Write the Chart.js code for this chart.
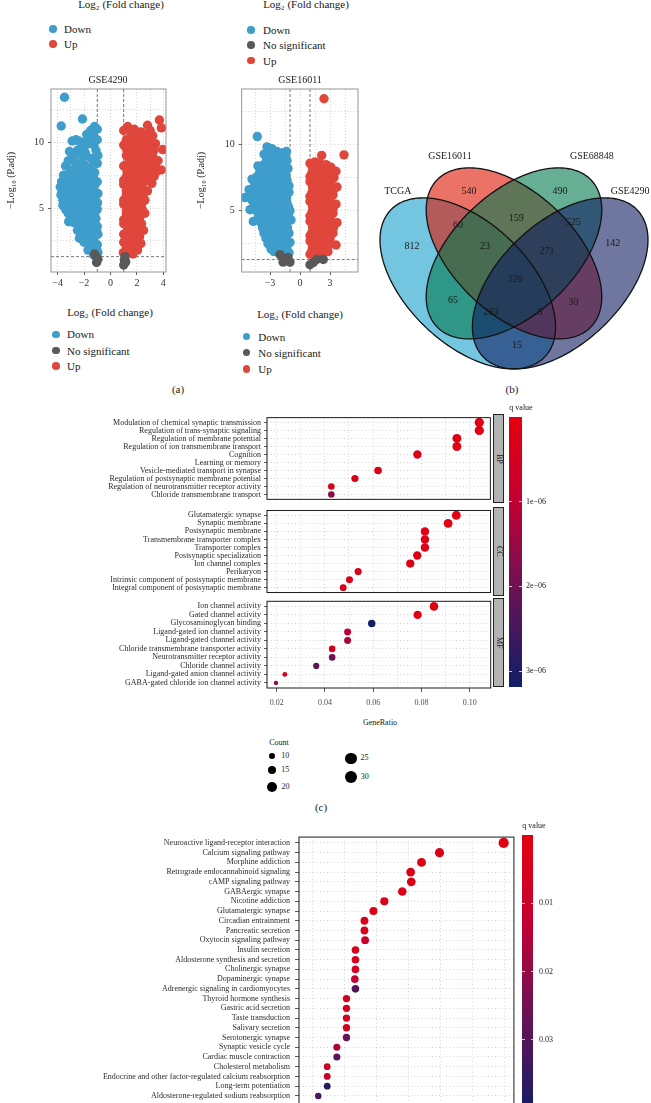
<!DOCTYPE html>
<html><head><meta charset="utf-8">
<script src="https://cdn.jsdelivr.net/npm/chart.js@4.4.1/dist/chart.umd.min.js"></script>
<style>
html,body{margin:0;padding:0;width:651px;height:1103px;overflow:hidden;background:#fff;font-family:'Liberation Serif',serif;color:#1a1a1a}
canvas{position:absolute}
.t{position:absolute;white-space:nowrap;line-height:1}
.dot{position:absolute;border-radius:50%}
.strip{position:absolute;background:#b3b3b3;border:1px solid #222;box-sizing:border-box;display:flex;align-items:center;justify-content:center}
.strip span{writing-mode:vertical-rl;font-size:8px;color:#1a1a1a;line-height:1}
.cbar{position:absolute}
.ctk{position:absolute;height:1px;background:rgba(255,255,255,0.75)}
</style></head><body>
<script>
// ================= DATA =================
// --- Volcano plots: [log2FC, -log10(P.adj)] ---
const gse4290Down = [[-3.48,13.43],[-3.73,11.24],[-2.12,11.78],[-3.16,3.96],
 [-1.2,11.2],[-1.0,11.0],[-1.5,10.9],[-1.8,10.6],[-1.3,10.5],[-2.6,10.2],[-2.9,10.1],[-2.2,10.0],[-1.0,10.2],[-1.6,9.9],[-3.1,9.3],[-2.5,9.4],[-1.9,9.2],[-1.1,9.4],
 [-3.4,8.2],[-2.8,8.6],[-2.2,8.5],[-1.5,8.8],[-1.0,8.4],[-3.0,7.9],[-2.4,7.8],[-1.8,8.0],[-1.2,7.7],
 [-3.7,7.0],[-3.8,6.6],[-3.3,7.2],[-2.8,7.0],[-2.2,7.2],[-1.6,7.1],[-1.0,7.0],[-3.5,6.2],[-3.0,6.3],[-2.5,6.5],[-2.0,6.4],[-1.4,6.3],[-0.95,6.1],
 [-3.6,5.6],[-3.2,5.5],[-2.7,5.7],[-2.2,5.4],[-1.7,5.6],[-1.2,5.3],[-3.4,4.9],[-2.9,4.8],[-2.4,5.0],[-1.9,4.9],[-1.4,4.7],[-1.0,4.9],
 [-3.0,4.3],[-2.6,4.2],[-2.1,4.1],[-1.6,4.0],[-1.1,4.2],[-2.4,3.6],[-1.9,3.5],[-1.4,3.4],[-1.0,3.6],
 [-2.2,3.0],[-1.7,2.9],[-1.2,2.8],[-0.95,3.0],[-2.0,2.4],[-1.5,2.3],[-1.0,2.2],
 [-1.7,1.8],[-1.2,1.7],[-0.95,1.6],[-1.3,1.45],
 [-1.35,11.0],[-1.75,10.3],[-2.4,10.1],[-1.25,9.8],[-2.0,9.6],[-2.75,9.0],[-2.1,8.9],[-1.3,8.6],[-0.95,9.0],
 [-3.2,8.6],[-2.6,8.1],[-2.0,8.3],[-1.4,8.2],[-3.55,7.5],[-3.05,7.6],[-2.5,7.4],[-1.9,7.6],[-1.3,7.4],
 [-3.3,6.7],[-2.75,6.6],[-2.2,6.8],[-1.7,6.7],[-1.2,6.7],[-3.75,6.0],[-3.25,5.9],[-2.75,6.1],[-2.25,6.0],[-1.7,6.0],[-1.15,5.8],
 [-3.6,5.2],[-3.0,5.2],[-2.5,5.3],[-1.95,5.3],[-1.45,5.1],[-0.98,5.4],
 [-3.2,4.6],[-2.7,4.5],[-2.2,4.6],[-1.7,4.5],[-1.2,4.6],[-2.8,3.9],[-2.3,3.9],[-1.75,3.8],[-1.2,3.9],
 [-2.5,3.3],[-2.0,3.2],[-1.5,3.1],[-1.05,3.3],[-2.35,2.7],[-1.8,2.6],[-1.3,2.5],[-1.45,2.0],[-1.05,1.9]];
const gse4290Up = [[1.3,11.2],[1.8,11.0],[2.8,11.3],[3.7,11.7],[3.85,11.1],[2.3,10.8],[1.0,10.9],[3.2,10.5],[1.5,10.4],[2.0,10.3],[2.6,10.2],[3.4,9.9],[3.95,9.45],
 [1.0,9.8],[1.4,9.6],[1.9,9.7],[2.4,9.5],[2.9,9.6],[1.2,9.0],[1.7,8.9],[2.2,8.8],[2.7,8.7],[3.2,8.9],[3.6,8.6],
 [1.0,8.2],[1.5,8.1],[2.0,8.0],[2.5,7.9],[3.0,8.0],[3.83,7.9],[1.2,7.4],[1.7,7.3],[2.2,7.2],[2.8,7.3],[3.3,7.4],
 [1.0,6.8],[1.4,6.6],[1.9,6.5],[2.4,6.7],[3.13,6.88],[2.8,6.3],[1.2,6.0],[1.7,5.9],[2.2,5.8],[2.6,5.6],
 [1.0,5.3],[1.4,5.1],[1.9,5.0],[2.4,4.9],[1.2,4.5],[1.7,4.4],[2.2,4.2],[2.6,4.6],
 [1.0,3.8],[1.5,3.7],[2.0,3.5],[2.5,3.3],[1.2,3.1],[1.7,3.0],[2.2,2.8],
 [1.0,2.4],[1.5,2.3],[2.3,2.3],[1.9,2.1],[0.97,1.6],[1.3,1.7],[1.7,1.5],
 [1.55,10.9],[2.05,10.7],[2.55,10.6],[3.0,10.9],[1.2,10.2],[1.75,10.1],[2.3,9.9],[2.8,10.0],[3.3,9.4],
 [1.2,9.5],[1.6,9.3],[2.1,9.2],[2.6,9.1],[3.0,9.1],[1.4,8.5],[1.9,8.4],[2.45,8.4],[2.9,8.4],[3.4,8.2],
 [1.25,7.8],[1.75,7.7],[2.25,7.6],[2.75,7.6],[3.5,7.8],[1.0,7.1],[1.5,7.0],[2.0,6.9],[2.55,7.0],[3.05,7.1],
 [1.2,6.3],[1.65,6.2],[2.15,6.2],[2.5,6.1],[1.0,5.6],[1.45,5.5],[1.95,5.4],[2.35,5.3],
 [1.2,4.8],[1.65,4.7],[2.1,4.6],[1.0,4.1],[1.45,4.0],[1.9,3.9],[2.35,3.8],[1.3,3.4],[1.75,3.3],[2.2,3.2],
 [1.0,3.0],[1.45,2.7],[1.95,2.6],[1.2,2.0],[1.65,1.9],[2.05,1.8]];
const gse4290NS = [[-1.2,1.5],[-1.1,1.3],[-1.05,0.85],[-0.95,1.1],[1.05,1.05],[1.0,0.66],[1.1,1.3],[1.15,0.9]];

const gse16011Down = [[-4.27,10.63],[-5.5,6.0],[-5.0,5.08],[-4.67,4.19],
 [-3.3,9.85],[-2.8,9.7],[-2.3,9.5],[-1.7,9.4],[-1.35,9.5],[-3.6,9.3],[-3.0,9.0],[-2.5,8.9],[-2.0,8.8],[-1.5,8.7],
 [-4.2,8.4],[-3.6,8.5],[-3.1,8.3],[-2.6,8.2],[-2.1,8.1],[-1.6,8.0],[-1.2,8.2],
 [-4.8,7.4],[-4.3,7.6],[-3.8,7.5],[-3.3,7.4],[-2.8,7.3],[-2.3,7.4],[-1.8,7.2],[-1.3,7.3],
 [-5.1,6.6],[-4.6,6.7],[-4.1,6.8],[-3.6,6.6],[-3.1,6.5],[-2.6,6.6],[-2.1,6.4],[-1.6,6.5],[-1.1,6.4],
 [-4.8,5.8],[-4.3,5.9],[-3.8,5.7],[-3.3,5.8],[-2.8,5.6],[-2.3,5.7],[-1.8,5.5],[-1.3,5.6],
 [-4.4,5.0],[-3.9,4.9],[-3.4,5.0],[-2.9,4.8],[-2.4,4.9],[-1.9,4.7],[-1.4,4.9],[-1.0,5.0],
 [-3.9,4.1],[-3.4,4.2],[-2.9,4.0],[-2.4,4.1],[-1.9,3.9],[-1.4,4.1],[-0.9,4.3],
 [-3.6,3.3],[-3.1,3.2],[-2.6,3.3],[-2.1,3.1],[-1.6,3.2],[-1.1,3.3],
 [-3.2,2.5],[-2.7,2.4],[-2.2,2.5],[-1.7,2.4],[-1.2,2.5],
 [-2.6,1.9],[-2.0,1.8],[-1.5,1.9],[-1.1,1.8],
 [-3.05,9.5],[-2.55,9.3],[-2.05,9.2],[-1.5,9.1],[-3.35,8.8],[-2.8,8.6],[-2.3,8.5],[-1.8,8.4],[-1.3,8.8],
 [-4.0,8.0],[-3.45,7.9],[-2.9,7.8],[-2.4,7.7],[-1.9,7.7],[-1.4,7.7],
 [-4.55,7.1],[-4.05,7.2],[-3.55,7.0],[-3.05,6.9],[-2.55,7.0],[-2.05,6.8],[-1.55,6.9],[-1.1,6.9],
 [-4.85,6.2],[-4.35,6.3],[-3.85,6.2],[-3.35,6.1],[-2.85,6.1],[-2.35,6.0],[-1.85,6.0],[-1.35,6.0],
 [-4.6,5.4],[-4.1,5.3],[-3.6,5.4],[-3.1,5.2],[-2.6,5.3],[-2.1,5.1],[-1.6,5.2],[-1.15,5.3],
 [-4.15,4.55],[-3.65,4.5],[-3.15,4.4],[-2.65,4.4],[-2.15,4.3],[-1.65,4.4],[-1.15,4.6],
 [-3.75,3.7],[-3.25,3.6],[-2.75,3.7],[-2.25,3.5],[-1.75,3.6],[-1.25,3.7],[-3.4,2.9],[-2.9,2.8],[-2.4,2.8],[-1.9,2.8],[-1.4,2.9],[-1.0,2.6],
 [-2.9,2.1],[-2.35,2.1],[-1.8,2.1],[-1.3,2.1]];
const gse16011Up = [[2.4,13.5],[2.17,9.2],[4.4,9.24],
 [1.0,8.6],[1.5,8.7],[2.0,8.6],[2.6,8.5],[3.1,8.3],[3.6,8.0],
 [1.2,7.9],[1.7,7.8],[2.2,7.9],[2.8,7.7],[3.4,7.5],
 [1.0,7.2],[1.5,7.1],[2.0,7.0],[2.5,7.1],[3.0,6.9],[3.7,6.8],
 [1.2,6.4],[1.7,6.3],[2.2,6.4],[2.7,6.2],[3.3,6.2],
 [1.0,5.7],[1.5,5.6],[2.0,5.5],[2.5,5.6],[3.0,5.4],[3.6,5.5],
 [1.2,4.9],[1.7,4.8],[2.2,4.9],[2.7,4.7],[3.3,4.8],
 [1.0,4.2],[1.5,4.1],[2.0,4.0],[2.5,4.2],[3.0,4.0],[3.7,4.1],
 [1.2,3.4],[1.7,3.3],[2.2,3.4],[2.7,3.2],[3.3,3.3],
 [1.0,2.7],[1.5,2.6],[2.0,2.5],[2.5,2.7],[3.0,2.5],[3.6,2.4],
 [1.2,2.0],[1.7,1.9],[2.2,1.8],[2.8,1.9],[1.0,1.7],
 [1.25,8.3],[1.75,8.3],[2.3,8.2],[2.85,8.1],[3.35,7.9],[1.0,7.6],[1.45,7.5],[1.95,7.4],[2.5,7.4],[3.1,7.3],
 [1.25,6.8],[1.75,6.7],[2.25,6.7],[2.75,6.6],[3.35,6.6],[1.0,6.1],[1.45,6.0],[1.95,5.9],[2.45,6.0],[3.0,5.8],
 [1.25,5.3],[1.75,5.2],[2.25,5.2],[2.75,5.1],[3.3,5.1],[1.0,4.6],[1.45,4.5],[1.95,4.4],[2.45,4.5],[3.0,4.4],
 [1.25,3.8],[1.75,3.7],[2.25,3.7],[2.75,3.6],[3.35,3.7],[1.0,3.1],[1.45,3.0],[1.95,2.9],[2.45,3.0],[3.0,2.9],
 [1.25,2.3],[1.75,2.2],[2.25,2.2],[2.75,2.2],[1.45,1.7]];
const gse16011NS = [[-2.0,1.67],[-1.5,1.3],[-1.0,1.1],[-1.2,1.45],[-1.7,1.1],[1.33,1.07],[1.67,1.3],[2.33,1.3],[1.0,0.9]];

const fcCutoffs = [-1, 1];
const padjCutoff = 1.3;
const volcano4290XTicks = [-4,-2,0,2,4];
const volcano16011XTicks = [-3,0,3];
const volcanoYTicks = [5,10];

// --- Venn ---
const vennSets = ['TCGA','GSE16011','GSE68848','GSE4290'];
const vennRegionCounts = [540,490,60,159,525,812,142,23,271,326,65,283,6,30,15];

// --- GO enrichment ---
const goBPTerms = ['Modulation of chemical synaptic transmission','Regulation of trans-synaptic signaling','Regulation of membrane potential','Regulation of ion transmembrane transport','Cognition','Learning or memory','Vesicle-mediated transport in synapse','Regulation of postsynaptic membrane potential','Regulation of neurotransmitter receptor activity','Chloride transmembrane transport'];
const goBPRatio = [0.1041,0.1041,0.0948,0.0948,0.0784,null,0.0621,0.0525,0.0427,0.0427];
const goBPCount = [32,32,29,29,24,null,19,16,13,13];
const goBPQ = [0.05e-6,0.06e-6,0.08e-6,0.1e-6,0.2e-6,null,0.2e-6,0.3e-6,0.35e-6,1.7e-6];

const goCCTerms = ['Glutamatergic synapse','Synaptic membrane','Postsynaptic membrane','Transmembrane transporter complex','Transporter complex','Postsynaptic specialization','Ion channel complex','Perikaryon','Intrinsic component of postsynaptic membrane','Integral component of postsynaptic membrane'];
const goCCRatio = [0.0945,0.0911,0.0815,0.0815,0.0815,0.0783,0.0754,0.0538,0.0502,0.0476];
const goCCCount = [29,28,25,25,25,24,23,16,15,14];
const goCCQ = [0.05e-6,0.08e-6,0.1e-6,0.12e-6,0.12e-6,0.15e-6,0.18e-6,0.25e-6,0.3e-6,0.3e-6];

const goMFTerms = ['Ion channel activity','Gated channel activity','Glycosaminoglycan binding','Ligand-gated ion channel activity','Ligand-gated channel activity','Chloride transmembrane transporter activity','Neurotransmitter receptor activity','Chloride channel activity','Ligand-gated anion channel activity','GABA-gated chloride ion channel activity'];
const goMFRatio = [0.0852,0.0784,0.0594,0.0494,0.0494,0.0430,0.0430,0.0364,0.0234,0.0197];
const goMFCount = [26,24,18,15,15,13,13,11,7,6];
const goMFQ = [0.1e-6,0.15e-6,3.1e-6,1.0e-6,1.3e-6,0.6e-6,1.9e-6,2.2e-6,0.4e-6,1.6e-6];

const goXTicks = [0.02,0.04,0.06,0.08,0.10];
const goQTicks = [1e-6,2e-6,3e-6];
const goQTickLabels = ['1e−06','2e−06','3e−06'];
const countLegend = [10,15,20,25,30];

// --- KEGG enrichment ---
const keggTerms = ['Neuroactive ligand-receptor interaction','Calcium signaling pathway','Morphine addiction','Retrograde endocannabinoid signaling','cAMP signaling pathway','GABAergic synapse','Nicotine addiction','Glutamatergic synapse','Circadian entrainment','Pancreatic secretion','Oxytocin signaling pathway','Insulin secretion','Aldosterone synthesis and secretion','Cholinergic synapse','Dopaminergic synapse','Adrenergic signaling in cardiomyocytes','Thyroid hormone synthesis','Gastric acid secretion','Taste transduction','Salivary secretion','Serotonergic synapse','Synaptic vesicle cycle','Cardiac muscle contraction','Cholesterol metabolism','Endocrine and other factor-regulated calcium reabsorption','Long-term potentiation','Aldosterone-regulated sodium reabsorption'];
const keggRatio = [0.0448,0.0348,0.0320,0.0303,0.0304,0.0290,0.0262,0.0245,0.0231,0.0231,0.0232,0.0217,0.0217,0.0217,0.0216,0.0217,0.0203,0.0203,0.0203,0.0203,0.0203,0.0188,0.0188,0.0173,0.0173,0.0173,0.0159];
const keggCount = [31,24,22,21,21,20,18,17,16,16,16,15,15,15,15,15,14,14,14,14,14,13,13,12,12,12,11];
const keggQ = [0.001,0.002,0.002,0.003,0.003,0.003,0.003,0.004,0.004,0.005,0.010,0.005,0.005,0.006,0.012,0.030,0.006,0.006,0.006,0.006,0.027,0.016,0.029,0.009,0.009,0.038,0.031];
const keggQTicks = [0.01,0.02,0.03];
const keggQTickLabels = ['0.01','0.02','0.03'];

// ================= STYLE / LAYOUT =================
const BLUE='#3e9dcb', RED='#e0463b', GRAY='#595959';
Chart.defaults.font.family = "'Liberation Serif', serif";
Chart.defaults.color = '#333';
const qStops = [[0,[228,0,16]],[0.31,[196,0,50]],[0.63,[108,18,84]],[1,[16,30,104]]];
function qColor(t){
  t=Math.max(0,Math.min(1,t));
  for(let i=1;i<qStops.length;i++){
    if(t<=qStops[i][0]){const a=qStops[i-1],b=qStops[i];const f=(t-a[0])/(b[0]-a[0]);
      const c=a[1].map((v,k)=>Math.round(v+(b[1][k]-v)*f));return `rgb(${c[0]},${c[1]},${c[2]})`;}
  }
  const c=qStops[qStops.length-1][1];return `rgb(${c[0]},${c[1]},${c[2]})`;
}
function addCanvas(left,top,w,h){
  const c=document.createElement('canvas');c.width=w;c.height=h;
  Object.assign(c.style,{left:left+'px',top:top+'px',width:w+'px',height:h+'px'});
  document.body.appendChild(c);return c.getContext('2d');
}
function txt(s,x,y,size,align){
  const d=document.createElement('div');d.className='t';d.textContent=s;d.style.fontSize=size+'px';
  d.style.left=x+'px';d.style.top=y+'px';
  d.style.transform=align==='l'?'translate(0,-50%)':'translate(-50%,-50%)';
  document.body.appendChild(d);return d;
}
function dot(x,y,r,color){
  const d=document.createElement('div');d.className='dot';
  Object.assign(d.style,{left:(x-r)+'px',top:(y-r)+'px',width:2*r+'px',height:2*r+'px',background:color});
  document.body.appendChild(d);
}
const frame=(color,width)=>({id:'frame',afterDatasetsDraw(chart){const {ctx,chartArea:a}=chart;ctx.save();ctx.strokeStyle=color;ctx.lineWidth=width;ctx.strokeRect(a.left,a.top,a.right-a.left,a.bottom-a.top);ctx.restore();}});
const near=(arr,v)=>arr.some(a=>Math.abs(a-v)<1e-9);
const fmtNum=v=>(v<0?'−':'')+Math.abs(v);

// ================= VOLCANO =================
function volcano(ctx,o){
  const pts=a=>a.map(p=>({x:p[0],y:p[1]}));
  const ptOpts=c=>({pointRadius:4.7,pointHoverRadius:4.7,pointBorderWidth:0,pointBackgroundColor:c,backgroundColor:c});
  const dash={type:'line',borderColor:'#555',borderWidth:0.8,borderDash:[3,2],pointRadius:0,fill:false,order:10};
  return new Chart(ctx,{type:'scatter',
    data:{datasets:[
      Object.assign({data:pts(o.ns),order:1},ptOpts(GRAY)),
      Object.assign({data:pts(o.down),order:2},ptOpts(BLUE)),
      Object.assign({data:pts(o.up),order:3},ptOpts(RED)),
      Object.assign({data:[{x:fcCutoffs[0],y:o.ymin},{x:fcCutoffs[0],y:o.ymax}]},dash),
      Object.assign({data:[{x:fcCutoffs[1],y:o.ymin},{x:fcCutoffs[1],y:o.ymax}]},dash),
      Object.assign({data:[{x:o.xmin,y:padjCutoff},{x:o.xmax,y:padjCutoff}]},dash)
    ]},
    options:{animation:false,responsive:false,events:[],
      layout:{padding:{left:0,top:o.padT,right:o.padR,bottom:0}},
      plugins:{legend:{display:false},tooltip:{enabled:false}},
      scales:{
        x:{type:'linear',min:o.xmin,max:o.xmax,
          afterBuildTicks:s=>{s.ticks=o.xGrid.map(v=>({value:v}));},
          ticks:{autoSkip:false,maxRotation:0,padding:2,font:{size:10},color:'#333',callback:v=>near(o.xLab,v)?fmtNum(v):''},
          grid:{color:'#c6c6c6',lineWidth:0.7,tickLength:3,tickWidth:0.8,tickColor:c=>near(o.xLab,c.tick.value)?'#333':'rgba(0,0,0,0)'},
          border:{display:false,dash:[1,2]},
          afterFit:s=>{s.height=28;s.paddingLeft=0;s.paddingRight=0;}},
        y:{type:'linear',min:o.ymin,max:o.ymax,
          afterBuildTicks:s=>{s.ticks=[2.5,5,7.5,10,12.5].map(v=>({value:v}));},
          ticks:{autoSkip:false,padding:4,font:{size:10},color:'#333',callback:v=>near(volcanoYTicks,v)?String(v):''},
          grid:{color:'#c6c6c6',lineWidth:0.7,tickLength:3,tickWidth:0.8,tickColor:c=>near(volcanoYTicks,c.tick.value)?'#333':'rgba(0,0,0,0)'},
          border:{display:false,dash:[1,2]},
          title:{display:true,text:'−Log₁₀ (P.adj)',font:{size:10},color:'#1a1a1a',padding:{top:5,bottom:0}},
          afterFit:s=>{s.width=o.yW;s.paddingTop=0;s.paddingBottom=0;}}
      }},
    plugins:[frame('#8a8a8a',0.9)]});
}
volcano(addCanvas(0,70,175,230),{down:gse4290Down,up:gse4290Up,ns:gse4290NS,xmin:-4.5,xmax:4.2,ymin:0.13,ymax:14.06,
  xGrid:[-4,-3,-2,-1,0,1,2,3,4],xLab:volcano4290XTicks,padT:19,padR:9,yW:51});
volcano(addCanvas(190,70,175,230),{down:gse16011Down,up:gse16011Up,ns:gse16011NS,xmin:-5.83,xmax:5.8,ymin:0.35,ymax:14.24,
  xGrid:[-4.5,-3,-1.5,0,1.5,3,4.5],xLab:volcano16011XTicks,padT:19,padR:7,yW:51.7});

// ================= VENN =================
const vennLayout = {cx:[0.35,0.5,0.5,0.65],cy:[0.47,0.57,0.57,0.47],rot:[-45,-45,45,45],a:0.35,b:0.2,
  colors:['rgba(22,158,203,0.6)','rgba(220,20,0,0.6)','rgba(0,120,77,0.6)','rgba(15,28,97,0.6)'],
  namePos:[[0.123,0.778],[0.292,0.892],[0.753,0.892],[0.877,0.778]],
  regionPos:[[0.354,0.778],[0.649,0.778],[0.318,0.662],[0.507,0.688],[0.692,0.675],[0.169,0.592],[0.821,0.602],[0.406,0.592],[0.607,0.578],[0.503,0.485],[0.302,0.415],[0.425,0.375],[0.584,0.375],[0.692,0.408],[0.510,0.265]]};
const vennPlugin={id:'vennShapes',
  beforeDatasetsDraw(chart){
    const {ctx,scales:{x,y}}=chart;const L=vennLayout;
    const path=i=>{const th=L.rot[i]*Math.PI/180;ctx.beginPath();
      for(let k=0;k<=200;k++){const t=k/200*2*Math.PI;const dx=L.a*Math.cos(t),dy=L.b*Math.sin(t);
        const X=L.cx[i]+dx*Math.cos(th)-dy*Math.sin(th),Y=L.cy[i]+dx*Math.sin(th)+dy*Math.cos(th);
        const px=x.getPixelForValue(X),py=y.getPixelForValue(Y);k?ctx.lineTo(px,py):ctx.moveTo(px,py);}
      ctx.closePath();};
    ctx.save();
    vennSets.forEach((s,i)=>{path(i);ctx.fillStyle=L.colors[i];ctx.fill();});
    ctx.lineWidth=1.3;ctx.strokeStyle='#111';
    vennSets.forEach((s,i)=>{path(i);ctx.stroke();});
    ctx.restore();
  },
  afterDatasetsDraw(chart){
    const {ctx}=chart;ctx.save();ctx.font="10px 'Liberation Serif'";ctx.textAlign='center';ctx.textBaseline='middle';ctx.fillStyle='#1a1a1a';
    chart.getDatasetMeta(0).data.forEach((p,i)=>ctx.fillText(String(vennRegionCounts[i]),p.x,p.y));
    chart.getDatasetMeta(1).data.forEach((p,i)=>ctx.fillText(vennSets[i],p.x,p.y));
    ctx.restore();
  }};
new Chart(addCanvas(370,140,281,240),{type:'scatter',
  data:{datasets:[
    {data:vennLayout.regionPos.map(p=>({x:p[0],y:p[1]})),pointRadius:0,pointHoverRadius:0},
    {data:vennLayout.namePos.map(p=>({x:p[0],y:p[1]})),pointRadius:0,pointHoverRadius:0}]},
  options:{animation:false,responsive:false,events:[],layout:{padding:0},
    plugins:{legend:{display:false},tooltip:{enabled:false}},
    scales:{x:{type:'linear',display:false,min:0.0325,max:0.9448},y:{type:'linear',display:false,min:0.148,max:0.948}}},
  plugins:[vennPlugin]});

// ================= DOT PLOTS =================
function dotPlot(ctx,o){
  const idx=[];o.ratio.forEach((r,i)=>{if(r!=null)idx.push(i);});
  const rads=idx.map(i=>o.rad(o.count[i]));
  return new Chart(ctx,{type:'scatter',
    data:{datasets:[{data:idx.map(i=>({x:o.ratio[i],y:i+1})),pointRadius:rads,pointHoverRadius:rads,pointBorderWidth:0,
      pointBackgroundColor:idx.map(i=>qColor(o.q[i]/o.qMax))}]},
    options:{animation:false,responsive:false,events:[],
      layout:{padding:{left:0,top:o.padT,right:o.padR,bottom:0}},
      plugins:{legend:{display:false},tooltip:{enabled:false}},
      scales:{
        x:{type:'linear',min:o.xMin,max:o.xMax,
          afterBuildTicks:s=>{s.ticks=o.xGrid.map(v=>({value:v}));},
          ticks:{display:o.showX,autoSkip:false,maxRotation:0,padding:6,font:{size:8},color:'#4d4d4d',callback:v=>near(o.xLab,v)?v.toFixed(2):''},
          grid:{color:'#c2c2c2',lineWidth:0.7,drawTicks:o.showX,tickLength:4,tickWidth:0.8,tickColor:c=>near(o.xLab,c.tick.value)?'#333':'rgba(0,0,0,0)'},
          border:{display:false,dash:[1,2.5]},
          afterFit:s=>{s.height=o.xH;s.paddingLeft=0;s.paddingRight=0;}},
        y:{type:'linear',reverse:true,min:0.4,max:o.nRows+0.6,
          afterBuildTicks:s=>{s.ticks=o.terms.map((_,i)=>({value:i+1}));},
          ticks:{autoSkip:false,padding:o.yPad,font:{size:8},color:'#2b2b2b',callback:v=>o.terms[Math.round(v)-1]},
          grid:{color:'#c2c2c2',lineWidth:0.7,tickLength:o.yTick,tickWidth:0.8,tickColor:'#333'},
          border:{display:false,dash:[1,2.5]},
          afterFit:s=>{s.width=o.yW;s.paddingTop=0;s.paddingBottom=0;}}
      }},
    plugins:[frame('#1a1a1a',1)]});
}
const GO_QMAX=3.19e-6;
const goRad=c=>1.8+0.55*Math.sqrt(Math.max(0,c-5.5));
const goCommon={xMin:0.016,xMax:0.1087,xGrid:[0.02,0.03,0.04,0.05,0.06,0.07,0.08,0.09,0.10],xLab:goXTicks,
  qMax:GO_QMAX,rad:goRad,padT:1,padR:2,yW:167,yPad:3,yTick:3,nRows:10};
dotPlot(addCanvas(100,413,395,91),Object.assign({},goCommon,{terms:goBPTerms,ratio:goBPRatio,count:goBPCount,q:goBPQ,showX:false,xH:0}));
dotPlot(addCanvas(100,505.5,395,91),Object.assign({},goCommon,{terms:goCCTerms,ratio:goCCRatio,count:goCCCount,q:goCCQ,showX:false,xH:0}));
dotPlot(addCanvas(100,597.2,395,115),Object.assign({},goCommon,{terms:goMFTerms,ratio:goMFRatio,count:goMFCount,q:goMFQ,showX:true,xH:24}));

const KEGG_QMAX=0.041;
const keggRad=c=>2.2+0.6*Math.sqrt(Math.max(0,c-8));
dotPlot(addCanvas(80,832,439,304),{terms:keggTerms,ratio:keggRatio,count:keggCount,q:keggQ,showX:false,xH:0,
  xMin:0.0129,xMax:0.0464,xGrid:[0.015,0.02,0.025,0.03,0.035,0.04,0.045],xLab:[0.02,0.03,0.04],
  qMax:KEGG_QMAX,rad:keggRad,padT:1,padR:2,yW:219,yPad:5,yTick:4,nRows:30});

// ================= HTML ANNOTATIONS =================
txt('Log₂ (Fold change)',121,3.5,11);
txt('Log₂ (Fold change)',306,3.5,11);
dot(53,29,3.8,BLUE);txt('Down',64,29,11,'l');
dot(53,44,3.8,RED);txt('Up',64,44,11,'l');
dot(251,30,3.8,BLUE);txt('Down',263,30,11,'l');
dot(251,45,3.8,GRAY);txt('No significant',263,45,11,'l');
dot(251,60.5,3.8,RED);txt('Up',263,60.5,11,'l');
txt('GSE4290',108,80,10);
txt('GSE16011',300,80,10);
txt('Log₂ (Fold change)',110,312,11);
txt('Log₂ (Fold change)',300,314,11);
dot(56,334.3,3.8,BLUE);txt('Down',67,334.3,11,'l');
dot(56,350.7,3.8,GRAY);txt('No significant',67,350.7,11,'l');
dot(56,366,3.8,RED);txt('Up',67,366,11,'l');
dot(246.7,336.7,3.8,BLUE);txt('Down',258.3,336.7,11,'l');
dot(246.7,352.7,3.8,GRAY);txt('No significant',258.3,352.7,11,'l');
dot(246.7,369,3.8,RED);txt('Up',258.3,369,11,'l');
txt('(a)',178,389,11);
txt('(b)',512,389,11);

[['BP',414,503],['CC',506.5,595.5],['MF',598.2,687.3]].forEach(([s,t,b])=>{
  const d=document.createElement('div');d.className='strip';
  Object.assign(d.style,{left:'493px',top:t+'px',width:'11px',height:(b-t)+'px'});
  d.innerHTML='<span>'+s+'</span>';document.body.appendChild(d);
});
function colorbar(left,top,w,h,qMax,ticks,labels,labelX){
  const d=document.createElement('div');d.className='cbar';
  const stops=[];for(let k=0;k<=20;k++){stops.push(qColor(k/20)+' '+(k*5)+'%');}
  Object.assign(d.style,{left:left+'px',top:top+'px',width:w+'px',height:h+'px',background:'linear-gradient(to bottom,'+stops.join(',')+')'});
  document.body.appendChild(d);
  ticks.forEach((q,i)=>{const y=top+h*q/qMax;
    [left,left+w-2.5].forEach(x=>{const tk=document.createElement('div');tk.className='ctk';
      Object.assign(tk.style,{left:x+'px',top:(y-0.5)+'px',width:'2.5px'});document.body.appendChild(tk);});
    txt(labels[i],labelX,y,8,'l');});
}
txt('q value',521,408,8);
colorbar(509.3,416.7,12.4,270.6,GO_QMAX,goQTicks,goQTickLabels,526);
txt('GeneRatio',380,723,8);
txt('Count',279,743,8);
const countLegendR=[3.1,4.2,5,5.6,6];
const countLegendPos=[[271.7,755.7],[271.7,770],[272,786.7],[351,758.3],[351.3,777.3]];
countLegend.forEach((c,i)=>{const [x,y]=countLegendPos[i];dot(x,y,countLegendR[i],'#000');txt(String(c),x+9.5,y,8,'l');});
txt('(c)',321,807,11);

txt('q value',534,826,8);
colorbar(522.3,835,10.7,280,KEGG_QMAX,keggQTicks,keggQTickLabels,539);
</script>
</body></html>
